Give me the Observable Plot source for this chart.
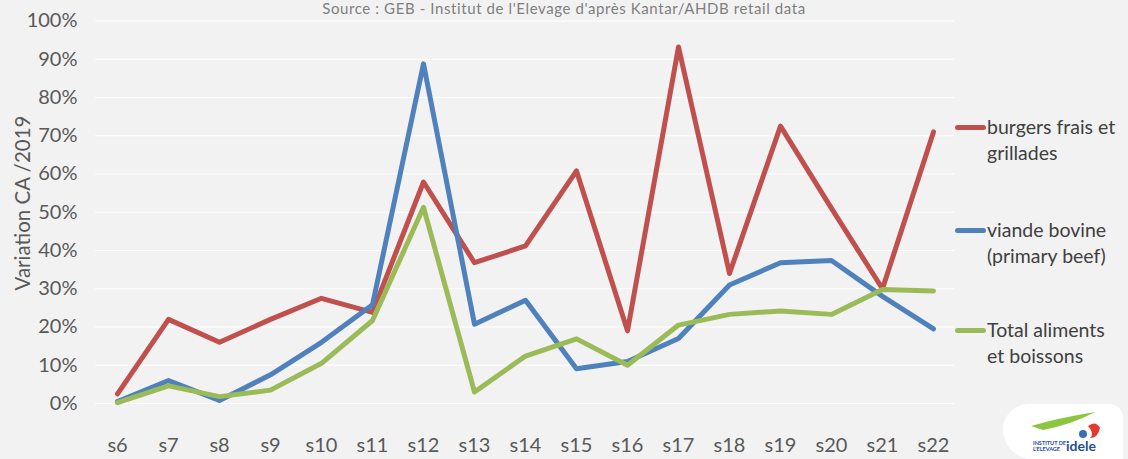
<!DOCTYPE html>
<html>
<head>
<meta charset="utf-8">
<script src="https://cdn.jsdelivr.net/npm/d3@7"></script>
<script src="https://cdn.jsdelivr.net/npm/@observablehq/plot@0.6"></script>
<style>
  html, body { margin: 0; padding: 0; background: #f2f2f2; overflow: hidden; }
  #wrap { position: relative; width: 1128px; height: 459px; background: #f2f2f2; overflow: hidden; font-family: Lato, "Open Sans", sans-serif; }
  #title { position: absolute; left: 0; width: 1128px; top: 0px; text-align: center; font-size: 15px; color: #7f7f7f; line-height: 16px; white-space: nowrap; letter-spacing: 0.6px; }
  #ylabel { position: absolute; left: 22px; top: 203px; transform: translate(-50%, -50%) rotate(-90deg); font-size: 20.5px; color: #595959; white-space: nowrap; }
  .leg { position: absolute; left: 955px; font-size: 19.5px; color: #404040; line-height: 26px; }
  .leg .sw { position: absolute; left: 0; top: 11px; width: 31px; height: 5px; border-radius: 3px; }
  .leg .tx { margin-left: 32px; white-space: nowrap; }
  #logo { position: absolute; left: 1003px; top: 404px; width: 120px; height: 55px; background: #ffffff; border-radius: 26px 14px 0 30px; }
  #chart svg { display: block; }
</style>
</head>
<body>
<div id="wrap">
  <div id="chart"></div>
  <div id="title">Source : GEB - Institut de l'Elevage d'après Kantar/AHDB retail data</div>
  <div id="ylabel">Variation CA /2019</div>
  <div id="legend"></div>
  <div id="logo">
    <svg width="120" height="55" viewBox="0 0 120 55">
      <path d="M28 22 Q55 14 92 8 Q70 20 40 26 Z" fill="#8cc63f"/>
      <path d="M85 22 q8 -6 12 2 q-2 10 -10 10 q5 -4 -2 -12 z" fill="#e63a2e"/>
      <circle cx="80" cy="30" r="4" fill="#3a6fb5"/>
      <text x="30" y="41" font-size="5.5" font-family="Lato, sans-serif" font-weight="bold" fill="#1f4e9c">INSTITUT DE</text>
      <text x="30" y="47" font-size="5.5" font-family="Lato, sans-serif" font-weight="bold" fill="#1f4e9c">L'ELEVAGE</text>
      <text x="63" y="47" font-size="14" font-family="Lato, sans-serif" font-weight="bold" fill="#1f4e9c">idele</text>
    </svg>
  </div>
</div>
<script>
const weeks = ["s6","s7","s8","s9","s10","s11","s12","s13","s14","s15","s16","s17","s18","s19","s20","s21","s22"];
const seriesNames = ["burgers frais et grillades", "viande bovine (primary beef)", "Total aliments et boissons"];
const legendLines = [["burgers frais et", "grillades"], ["viande bovine", "(primary beef)"], ["Total aliments", "et boissons"]];
const burgers = [0.025, 0.22, 0.16, 0.22, 0.275, 0.238, 0.579, 0.368, 0.412, 0.608, 0.19, 0.932, 0.34, 0.725, 0.51, 0.30, 0.71];
const viande  = [0.005, 0.06, 0.008, 0.075, 0.16, 0.258, 0.888, 0.207, 0.27, 0.091, 0.11, 0.17, 0.31, 0.368, 0.374, 0.28, 0.195];
const total   = [0.002, 0.046, 0.018, 0.035, 0.105, 0.217, 0.513, 0.03, 0.124, 0.169, 0.10, 0.205, 0.233, 0.242, 0.233, 0.298, 0.294];
const colors = ["#c0504d", "#4f81bd", "#9bbb59"];
const yTicks = [0, 0.1, 0.2, 0.3, 0.4, 0.5, 0.6, 0.7, 0.8, 0.9, 1.0];

const valuesBySeries = [burgers, viande, total];
const data = [];
valuesBySeries.forEach((vals, si) => {
  vals.forEach((v, i) => data.push({series: seriesNames[si], week: weeks[i], value: v}));
});

const chart = Plot.plot({
  width: 1128,
  height: 459,
  marginLeft: 95,
  marginRight: 174,
  marginTop: 20.5,
  marginBottom: 56,
  style: { background: "transparent", fontFamily: "Lato, 'Open Sans', sans-serif", fontSize: "20px", color: "#595959", overflow: "visible" },
  x: { type: "point", domain: weeks, padding: 0.33 },
  y: { domain: [0, 1] },
  color: { domain: seriesNames, range: colors },
  marks: [
    Plot.gridY(yTicks, { stroke: "#ffffff", strokeOpacity: 1, strokeWidth: 1.2 }),
    Plot.axisY({ ticks: yTicks, tickFormat: d3.format(".0%"), tickSize: 0, tickPadding: 18, label: null, fontSize: 20 }),
    Plot.axisX({ tickSize: 0, tickPadding: 34, label: null, fontSize: 20 }),
    Plot.line(data, { x: "week", y: "value", z: "series", stroke: "series", strokeWidth: 5, strokeLinejoin: "round", strokeLinecap: "round" })
  ]
});
document.getElementById("chart").appendChild(chart);

const legTops = [114, 217, 317];
const legend = document.getElementById("legend");
legendLines.forEach((lines, i) => {
  const d = document.createElement("div");
  d.className = "leg";
  d.style.top = legTops[i] + "px";
  d.innerHTML = `<div class="sw" style="background:${colors[i]}"></div><div class="tx">${lines.join("<br>")}</div>`;
  legend.appendChild(d);
});
</script>
</body>
</html>
